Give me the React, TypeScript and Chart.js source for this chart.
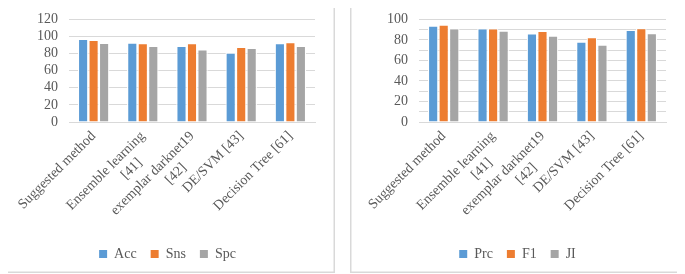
import React, { useEffect, useRef } from "react";
import { Chart, registerables } from "chart.js";

Chart.register(...registerables);

const categories: (string | string[])[] = [
  "Suggested method",
  ["Ensemble learning", "[41]      "],
  ["exemplar darknet19", "[42]        "],
  "DE/SVM [43]",
  "Decision Tree [61]",
];

const accValues = [97.4, 93.0, 89.2, 81.3, 92.2];
const snsValues = [96.0, 92.4, 92.2, 88.0, 93.4];
const spcValues = [92.6, 89.2, 85.0, 86.8, 89.2];

const prcValues = [94.0, 91.4, 86.5, 78.3, 89.9];
const f1Values = [95.0, 91.4, 89.0, 82.7, 91.5];
const jiValues = [91.4, 89.2, 84.3, 75.5, 86.8];

const leftLabels = ["Acc", "Sns", "Spc"];
const rightLabels = ["Prc", "F1", "JI"];

const COLORS = ["#5B9BD5", "#ED7D31", "#A5A5A5"];
const FONT = "'Liberation Serif', 'Times New Roman', serif";
const TEXT = "#595959";
const GRID = "#D9D9D9";

const W = 335;
const H = 273;

type PanelProps = {
  left: number;
  labels: string[];
  series: number[][];
  yMax: number;
  yStep: number;
  labelEvery: number;
  padRight: number;
};

function Panel({ left, labels, series, yMax, yStep, labelEvery, padRight }: PanelProps) {
  const ref = useRef<HTMLCanvasElement | null>(null);

  useEffect(() => {
    if (!ref.current) return;
    const panelPlugin = {
      id: "panelBorder",
      afterLayout(chart: any) {
        const lg = chart.legend;
        if (lg) {
          const shift = (padRight - 10) / 2;
          lg.left += shift;
          lg.right += shift;
        }
      },
      beforeDraw(chart: any) {
        const ctx = chart.ctx;
        ctx.save();
        ctx.fillStyle = "#FFFFFF";
        ctx.fillRect(0, 0, chart.width, chart.height);
        ctx.strokeStyle = GRID;
        ctx.lineWidth = 1.5;
        ctx.strokeRect(0.75, 0.75, chart.width - 1.5, chart.height - 1.5);
        ctx.restore();
      },
    };
    const chart = new Chart(ref.current, {
      type: "bar",
      data: {
        labels: categories,
        datasets: series.map((vals, i) => ({
          label: labels[i],
          data: vals,
          backgroundColor: COLORS[i],
          borderColor: "#FFFFFF",
          borderWidth: 1.2,
          borderSkipped: "start" as const,
          barPercentage: 1,
          categoryPercentage: 0.64,
        })),
      },
      options: {
        responsive: false,
        animation: false,
        devicePixelRatio: 1,
        layout: { padding: { top: 9.6, left: 10, right: padRight, bottom: 2 } },
        plugins: {
          tooltip: { enabled: false },
          legend: {
            position: "bottom",
            labels: {
              font: { family: FONT, size: 14 },
              color: TEXT,
              boxWidth: 8,
              boxHeight: 8,
              padding: 14,
              generateLabels(chart: any) {
                const items = Chart.defaults.plugins.legend.labels.generateLabels(chart);
                return items.map((it: any) => ({
                  ...it,
                  strokeStyle: it.fillStyle,
                  lineWidth: 0,
                }));
              },
            },
          },
        },
        scales: {
          x: {
            grid: { display: false, drawTicks: false },
            border: { display: true, color: GRID, width: 1 },
            ticks: {
              font: { family: FONT, size: 14 },
              color: TEXT,
              minRotation: 45,
              maxRotation: 45,
              autoSkip: false,
              padding: 6,
            },
            afterFit(scale: any) {
              scale.height = 111;
            },
          },
          y: {
            min: 0,
            max: yMax,
            grid: { color: GRID, drawTicks: false, lineWidth: 1 },
            border: { display: false },
            ticks: {
              stepSize: yStep,
              autoSkip: false,
              font: { family: FONT, size: 14 },
              color: TEXT,
              padding: 11,
              callback(v: any) {
                return Number(v) % labelEvery === 0 ? String(v) : "";
              },
            },
            afterFit(scale: any) {
              scale.width = 59;
            },
          },
        },
      },
      plugins: [panelPlugin],
    });
    return () => chart.destroy();
  }, []);

  return (
    <div style={{ position: "absolute", left, top: 0, width: W, height: H }}>
      <canvas ref={ref} width={W} height={H} style={{ display: "block" }} />
    </div>
  );
}

export default function App() {
  return (
    <div style={{ position: "relative", width: 685, height: 274 }}>
      <div style={{ position: "absolute", left: -8, top: -8, width: 685, height: 274, background: "#fff" }}>
        <Panel
          left={0}
          labels={leftLabels}
          series={[accValues, snsValues, spcValues]}
          yMax={120}
          yStep={20}
          labelEvery={20}
          padRight={20}
        />
        <Panel
          left={350}
          labels={rightLabels}
          series={[prcValues, f1Values, jiValues]}
          yMax={100}
          yStep={10}
          labelEvery={20}
          padRight={19}
        />
      </div>
    </div>
  );
}
